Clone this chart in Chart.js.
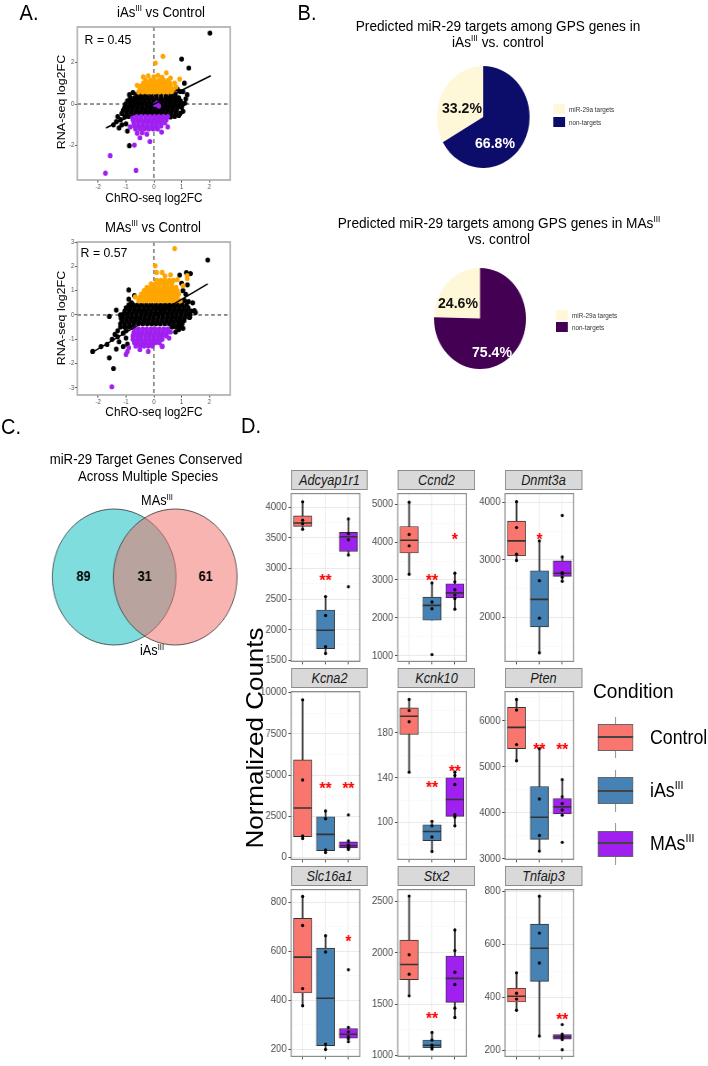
<!DOCTYPE html>
<html>
<head>
<meta charset="utf-8">
<title>miR-29 targets</title>
<script src="https://cdn.jsdelivr.net/npm/chart.js@4.4.1/dist/chart.umd.min.js"></script>
<style>
  html, body { margin: 0; padding: 0; background: #fff; }
  body { width: 708px; height: 1066px; overflow: hidden; position: relative; }
  #page { position: absolute; left: 0; top: 0; width: 778px; height: 1066px;
          transform: scaleX(0.91); transform-origin: 0 0;
          font-family: "Liberation Sans", Arial, sans-serif; color: #000; }
  #page canvas { position: absolute; }
  .t { position: absolute; white-space: nowrap; line-height: 1; }
  .t sup { font-size: 0.6em; vertical-align: 0; position: relative; top: -0.65em; }
  .strip { position: absolute; box-sizing: border-box; background: #D9D9D9; border: 1px solid #8C8C8C;
           font-style: italic; font-size: 14px; color: #1A1A1A; text-align: center; line-height: 18px; }
  .key { position: absolute; box-sizing: border-box; }
</style>
</head>
<body>
<div id="page"></div>
<script>
// ---------------- data ----------------

// Panel A: ChRO-seq vs RNA-seq log2FC, dots
const scatterXTicks = [-2, -1, 0, 1, 2];
const iasYTicks = [-2, 0, 2];
const masYTicks = [-3, -2, -1, 0, 1, 2, 3];

// dense bands are written as [y, [x, x, ...]]
const iasBlackRows = [
  [0.45, [-0.62, -0.45, -0.28, -0.1, 0.08, 0.26, 0.44, 0.62, 0.78]],
  [0.3, [-0.85, -0.7, -0.54, -0.38, -0.22, -0.06, 0.1, 0.26, 0.42, 0.58, 0.74, 0.9]],
  [0.15, [-0.95, -0.8, -0.64, -0.48, -0.32, -0.16, 0, 0.16, 0.32, 0.48, 0.64, 0.8, 0.96]],
  [0.0, [-1.02, -0.86, -0.7, -0.54, -0.38, -0.22, -0.06, 0.1, 0.26, 0.42, 0.58, 0.74, 0.9, 1.05]],
  [-0.15, [-1.05, -0.9, -0.74, -0.58, -0.42, -0.26, -0.1, 0.06, 0.22, 0.38, 0.54, 0.7, 0.86, 1.0]],
  [-0.3, [-1.1, -0.94, -0.78, -0.62, -0.46, -0.3, -0.14, 0.02, 0.18, 0.34, 0.5, 0.66, 0.82]],
  [-0.45, [-1.15, -0.98, -0.82, -0.66, -0.5, -0.34, -0.18, -0.02, 0.14, 0.3, 0.46, 0.62, 0.78]]
];
const iasBlackExtra = [
  [-1.3, -0.6], [-1.2, -0.75], [-1.05, -0.62], [-0.9, -0.6], [-1.35, -0.85], [-1.0, -0.95],
  [-1.15, -1.0], [-0.95, -1.3], [-0.88, -2.0], [1.15, 0.25], [1.12, 0.05], [1.2, 0.45],
  [1.05, 0.6], [0.95, 0.6], [0.85, 0.72], [1.26, 1.73], [1.0, 2.16], [2.02, 3.41],
  [0.95, -0.45], [1.05, -0.35], [0.9, -0.55], [0.75, -0.6], [-0.75, 0.55], [-0.88, 0.45],
  [0.7, 0.65], [1.1, 1.0], [-1.45, -1.0], [-1.25, -1.15], [0.6, -0.62]
];
const iasOrangeRows = [
  [0.58, [-0.55, -0.4, -0.25, -0.1, 0.05, 0.2, 0.35, 0.5, 0.65]],
  [0.72, [-0.5, -0.35, -0.2, -0.05, 0.1, 0.25, 0.4, 0.55, 0.7]],
  [0.86, [-0.45, -0.3, -0.15, 0, 0.15, 0.3, 0.45, 0.6]],
  [1.0, [-0.38, -0.22, -0.06, 0.1, 0.26, 0.42, 0.58]],
  [1.14, [-0.3, -0.12, 0.04, 0.2, 0.36, 0.52]]
];
const iasOrangeExtra = [
  [-0.38, 1.3], [0.0, 1.3], [0.15, 1.38], [0.3, 1.28], [0.93, 1.2], [0.75, 1.0], [0.8, 0.82],
  [-0.6, 0.9], [0.06, 1.97], [0.33, 2.29], [0.45, 1.5], [-0.2, 1.35], [0.6, 1.25]
];
const iasPurpleRows = [
  [-0.6, [-0.78, -0.62, -0.46, -0.3, -0.14, 0.02, 0.18, 0.34, 0.5]],
  [-0.75, [-0.75, -0.6, -0.45, -0.3, -0.15, 0, 0.15, 0.3, 0.45]],
  [-0.9, [-0.72, -0.56, -0.4, -0.24, -0.08, 0.08, 0.24, 0.4]],
  [-1.05, [-0.7, -0.54, -0.38, -0.22, -0.06, 0.1, 0.26]],
  [-1.2, [-0.66, -0.5, -0.34, -0.18, -0.02, 0.14]]
];
const iasPurpleExtra = [
  [-0.6, -1.4], [-0.42, -1.38], [-0.25, -1.45], [0.28, -1.35], [0.5, -1.1], [-0.14, -1.8],
  [-0.7, -1.97], [-0.5, -1.62], [-1.57, -2.48], [-1.74, -3.32], [-0.64, -3.19], [0.05, -0.02],
  [0.18, -0.1], [0.12, 0.05], [-0.85, -1.1]
];
const iasFit = [[-1.72, -1.15], [2.05, 1.36]];

const masBlackRows = [
  [0.42, [-0.9, -0.74, -0.58, -0.42, -0.26, -0.1, 0.06, 0.22, 0.38, 0.54, 0.7, 0.86, 1.02, 1.18]],
  [0.29, [-1.0, -0.84, -0.68, -0.52, -0.36, -0.2, -0.04, 0.12, 0.28, 0.44, 0.6, 0.76, 0.92, 1.08, 1.24]],
  [0.16, [-1.05, -0.89, -0.73, -0.57, -0.41, -0.25, -0.09, 0.07, 0.23, 0.39, 0.55, 0.71, 0.87, 1.03, 1.19, 1.35]],
  [0.03, [-1.1, -0.94, -0.78, -0.62, -0.46, -0.3, -0.14, 0.02, 0.18, 0.34, 0.5, 0.66, 0.82, 0.98, 1.14, 1.3]],
  [-0.1, [-1.12, -0.96, -0.8, -0.64, -0.48, -0.32, -0.16, 0, 0.16, 0.32, 0.48, 0.64, 0.8, 0.96, 1.12, 1.28]],
  [-0.23, [-1.15, -0.99, -0.83, -0.67, -0.51, -0.35, -0.19, -0.03, 0.13, 0.29, 0.45, 0.61, 0.77, 0.93, 1.09]],
  [-0.36, [-1.2, -1.04, -0.88, -0.72, -0.56, -0.4, -0.24, -0.08, 0.08, 0.24, 0.4, 0.56, 0.72, 0.88, 1.02]],
  [-0.49, [-1.2, -1.05, -0.9, -0.75, 0.65, 0.8, 0.95]]
];
const masBlackExtra = [
  [-1.68, -1.21], [-1.6, -1.76], [-1.45, -2.2], [-1.6, -0.06], [-1.18, -0.12], [-0.8, 0.5],
  [-0.9, 0.65], [-0.9, 1.03], [-0.7, 0.8], [1.4, 0.5], [1.46, 0.18], [1.3, -0.08], [0.93, 1.64],
  [1.17, 1.74], [1.32, 1.7], [1.21, 1.24], [1.94, 2.26], [1.1, 0.6], [1.25, 0.55], [1.5, 0.1],
  [-2.2, -1.5], [-1.9, -1.3], [-1.5, -1.0], [-1.3, -0.9], [-1.3, -0.65], [-1.1, -0.75],
  [-1.0, -0.65], [-1.25, -1.1], [-1.1, -1.3], [-1.35, -1.4], [-0.95, -1.2], [-1.0, -0.95],
  [-1.4, -0.8], [-1.2, 0.0], [-1.35, 0.2], [0.9, -0.6], [1.05, -0.55], [0.78, -0.7],
  [1.0, 1.3], [1.05, 1.0], [1.15, 0.85]
];
const masOrangeRows = [
  [0.58, [-0.55, -0.4, -0.25, -0.1, 0.05, 0.2, 0.35, 0.5, 0.65, 0.8, 0.95]],
  [0.72, [-0.5, -0.35, -0.2, -0.05, 0.1, 0.25, 0.4, 0.55, 0.7, 0.85]],
  [0.86, [-0.45, -0.3, -0.15, 0, 0.15, 0.3, 0.45, 0.6, 0.75, 0.9]],
  [1.0, [-0.35, -0.2, -0.05, 0.1, 0.25, 0.4, 0.55, 0.7, 0.85]],
  [1.14, [-0.25, -0.1, 0.05, 0.2, 0.35, 0.5, 0.65, 0.8]],
  [1.28, [-0.1, 0.05, 0.2, 0.35, 0.5, 0.65]],
  [1.42, [0.1, 0.25, 0.4, 0.55, 0.7]]
];
const masOrangeExtra = [
  [-0.67, 0.74], [0.1, 1.75], [0.05, 2.02], [0.75, 2.73], [1.2, 1.5], [0.6, 1.65], [0.4, 1.6],
  [0.85, 1.45], [1.05, 1.2], [0.3, 1.75], [1.2, 1.62]
];
const masPurpleRows = [
  [-0.58, [-0.7, -0.55, -0.4, -0.25, -0.1, 0.05, 0.2, 0.35, 0.5]],
  [-0.72, [-0.72, -0.57, -0.42, -0.27, -0.12, 0.03, 0.18, 0.33, 0.48]],
  [-0.86, [-0.75, -0.6, -0.45, -0.3, -0.15, 0, 0.15, 0.3, 0.45]],
  [-1.0, [-0.75, -0.6, -0.45, -0.3, -0.15, 0, 0.15, 0.3]],
  [-1.14, [-0.7, -0.55, -0.4, -0.25, -0.1, 0.05, 0.2]],
  [-1.28, [-0.65, -0.5, -0.35, -0.2, -0.05, 0.3]]
];
const masPurpleExtra = [
  [-0.95, -1.5], [-1.0, -1.62], [-0.2, -1.5], [-0.5, -1.42], [0.3, -1.3], [0.55, -0.95],
  [-1.51, -2.95], [-0.9, -1.35], [0.6, -0.7]
];
const masFit = [[-2.26, -1.57], [1.94, 1.28]];

// Panel B: pies
const pieLabels = ['miR-29a targets', 'non-targets'];
const iasPie = [33.2, 66.8];
const masPie = [24.6, 75.4];

// Panel C: venn
const vennSets = ['iAs', 'MAs'];
const vennCounts = [89, 31, 61];

// Panel D: normalized counts
const conditions = ['Control', 'iAsIII', 'MAsIII'];
const genes = ['Adcyap1r1', 'Ccnd2', 'Dnmt3a', 'Kcna2', 'Kcnk10', 'Pten', 'Slc16a1', 'Stx2', 'Tnfaip3'];
const geneTicks = [
  [1500, 2000, 2500, 3000, 3500, 4000], [1000, 2000, 3000, 4000, 5000], [2000, 3000, 4000],
  [0, 2500, 5000, 7500, 10000], [100, 140, 180], [3000, 4000, 5000, 6000],
  [200, 400, 600, 800], [1000, 1500, 2000, 2500], [200, 400, 600, 800]
];
const geneRange = [
  [1480, 4225], [850, 5280], [1240, 4150],
  [-120, 10060], [67, 217], [2990, 6630],
  [172, 851], [991, 2613], [178, 807]
];
// dots per condition: Control, iAsIII, MAsIII
const geneDots = [
  [[4090, 3790, 3730, 3640], [2540, 2230, 1720, 1610], [3810, 3570, 3470, 3220, 2700]],
  [[5050, 4200, 3900, 3150], [2920, 2420, 2240, 1030], [3180, 2950, 2740, 2600, 2510, 2230]],
  [[4010, 3560, 3100, 2990], [3330, 2640, 1990, 1390], [3770, 3050, 2780, 2760, 2700, 2630]],
  [[9560, 4700, 1300, 1150], [2820, 2350, 450, 300], [2580, 1000, 760, 650, 560, 480]],
  [[210, 200, 190, 145], [101, 97, 87, 74], [145, 142, 134, 107, 105, 97]],
  [[6460, 6230, 5480, 5130], [5390, 4300, 3510, 3170], [4720, 4350, 4200, 4060, 3950, 3360]],
  [[823, 705, 448, 378], [663, 597, 222, 200], [525, 290, 272, 252, 244, 232]],
  [[2550, 1980, 1790, 1580], [1223, 1150, 1100, 1075, 1062], [2220, 2020, 1810, 1690, 1460, 1370]],
  [[493, 416, 394, 352], [782, 643, 530, 255], [298, 262, 255, 248, 242, 203]]
];
// boxes: [lower whisker, q1, median, q3, upper whisker]
const geneBoxes = [
  [[3640, 3690, 3745, 3860, 4090], [1610, 1690, 1990, 2320, 2540], [3220, 3280, 3520, 3590, 3810]],
  [[3150, 3712, 4050, 4412, 5050], [1937, 1937, 2330, 2545, 2920], [2230, 2530, 2660, 2900, 3180]],
  [[2990, 3072, 3330, 3672, 4010], [1390, 1840, 2315, 2812, 3330], [2630, 2715, 2770, 2982, 3050]],
  [[1150, 1262, 3000, 5915, 9560], [300, 412, 1400, 2467, 2820], [480, 582, 705, 940, 1000]],
  [[145, 178.75, 195, 202.5, 210], [74, 83.75, 92, 98, 101], [97, 105.5, 120.5, 140, 145]],
  [[5130, 5392, 5855, 6287, 6460], [3170, 3425, 3905, 4572, 5390], [3950, 3977, 4130, 4312, 4720]],
  [[378, 430, 576, 734, 823], [200, 216, 409, 613, 663], [232, 246, 262, 285, 290]],
  [[1580, 1737, 1885, 2122, 2550], [1062, 1075, 1100, 1150, 1223], [1370, 1517, 1750, 1967, 2220]],
  [[352, 383, 405, 435, 493], [255, 461, 586, 677, 782], [242, 243, 251, 260, 262]]
];
// significance marks: [text, y] or null
const geneSig = [
  [null, ['**', 2870], null],
  [null, ['**', 3100], ['*', 4180]],
  [null, ['*', 3430], null],
  [null, ['**', 4460], ['**', 4460]],
  [null, ['**', 135], ['**', 150]],
  [null, ['**', 5480], ['**', 5480]],
  [null, null, ['*', 658]],
  [null, ['**', 1400], null],
  [null, null, ['**', 336]]
];

// ---------------- layout (picture pixels) ----------------
const SX = 0.91;              // the figure is a little narrower than tall
const FAM = '"Liberation Sans", Arial, sans-serif';
const condColors = ['#F8766D', '#4682B4', '#A020F0'];
const facetLeft = [291, 398, 505];
const facetWidth = 77;
const facetTop = [490, 688, 886];
const facetBottom = [663, 861, 1058];

Chart.defaults.font.family = FAM;
Chart.defaults.animation = false;
Chart.defaults.responsive = false;
Chart.defaults.events = [];
Chart.defaults.plugins.legend.display = false;
Chart.defaults.plugins.tooltip.enabled = false;

const page = document.getElementById('page');

function text(html, x, y, size, extra, mode) {
  const d = document.createElement('div');
  d.className = 't';
  d.innerHTML = html;
  d.style.left = (x / SX) + 'px';
  d.style.top = y + 'px';
  d.style.fontSize = size + 'px';
  if (extra) d.style.cssText += extra;
  d.style.transform = mode === 'left' ? 'translateY(-50%)'
    : mode === 'rot' ? 'translate(-50%,-50%) rotate(-90deg)' : 'translate(-50%,-50%)';
  page.appendChild(d);
  return d;
}

function block(cls, x, y, w, h, css) {
  const d = document.createElement('div');
  d.className = cls;
  d.style.left = (x / SX) + 'px';
  d.style.top = y + 'px';
  d.style.width = (w / SX) + 'px';
  d.style.height = h + 'px';
  if (css) d.style.cssText += css;
  page.appendChild(d);
  return d;
}

// canvas whose chart area lands on [l,t,r,b]; pads are canvas pixels
function makeCanvas(l, t, r, b, padL, padT, padR, padB) {
  const c = document.createElement('canvas');
  c.width = Math.round((r - l) / SX + padL + padR);
  c.height = Math.round(b - t + padT + padB);
  c.style.left = (l / SX - padL) + 'px';
  c.style.top = (t - padT) + 'px';
  page.appendChild(c);
  return c;
}

const toPts = (rows, extra) =>
  rows.flatMap(([y, xs]) => xs.map(x => ({ x, y }))).concat(extra.map(([x, y]) => ({ x, y })));

// ---------------- panel A ----------------
const zeroLines = {
  id: 'zeroLines',
  beforeDatasetsDraw(chart) {
    const { ctx, chartArea: a, scales } = chart;
    const x0 = scales.x.getPixelForValue(0), y0 = scales.y.getPixelForValue(0);
    ctx.save();
    ctx.strokeStyle = '#222';
    ctx.lineWidth = 1;
    ctx.setLineDash([4, 3]);
    ctx.beginPath();
    ctx.moveTo(x0, a.top); ctx.lineTo(x0, a.bottom);
    ctx.moveTo(a.left, y0); ctx.lineTo(a.right, y0);
    ctx.stroke();
    ctx.restore();
  },
  afterDraw(chart) {
    const { ctx, chartArea: a } = chart;
    ctx.save();
    ctx.strokeStyle = '#AAAAAA';
    ctx.lineWidth = 1.6;
    ctx.strokeRect(a.left, a.top, a.width, a.height);
    ctx.restore();
  }
};

function scatterPanel(area, yMin, yMax, yTicks, black, orange, purple, fit) {
  const cv = makeCanvas(area[0], area[1], area[2], area[3], 17, 6, 3, 12);
  const dot = (data, color, order) => ({
    type: 'scatter', data, backgroundColor: color, pointRadius: 2.6, pointBorderWidth: 0, order
  });
  new Chart(cv, {
    type: 'scatter',
    data: {
      datasets: [
        dot(black, '#000000', 3),
        dot(orange, '#FFA500', 2),
        dot(purple, '#A020F0', 1),
        { type: 'line', data: fit.map(([x, y]) => ({ x, y })), borderColor: '#000', borderWidth: 1.6,
          pointRadius: 0, order: 0 }
      ]
    },
    options: {
      layout: { padding: { top: 6, right: 3, bottom: 2, left: 0 } },
      scales: {
        x: {
          type: 'linear', min: -2.75, max: 2.75,
          afterBuildTicks: s => { s.ticks = scatterXTicks.map(v => ({ value: v })); },
          grid: { drawOnChartArea: false, tickLength: 2.5, tickColor: '#333' },
          border: { display: false },
          ticks: { font: { size: 6.5 }, color: '#4D4D4D', padding: 1, maxRotation: 0 },
          afterFit: s => { s.height = 10; }
        },
        y: {
          type: 'linear', min: yMin, max: yMax,
          afterBuildTicks: s => { s.ticks = yTicks.map(v => ({ value: v })); },
          grid: { drawOnChartArea: false, tickLength: 2.5, tickColor: '#333' },
          border: { display: false },
          ticks: { font: { size: 6.5 }, color: '#4D4D4D', padding: 1 },
          afterFit: s => { s.width = 17; }
        }
      }
    },
    plugins: [zeroLines]
  });
}

text('A.', 29, 13, 22);
text('iAs<sup>III</sup> vs Control', 161, 12, 14.5);
scatterPanel([77, 27, 231, 180], -3.65, 3.7, iasYTicks,
  toPts(iasBlackRows, iasBlackExtra), toPts(iasOrangeRows, iasOrangeExtra),
  toPts(iasPurpleRows, iasPurpleExtra), iasFit);
text('R = 0.45', 108, 40, 13.5);
text('RNA-seq log2FC', 62, 102, 12.5, '', 'rot');
text('ChRO-seq log2FC', 154, 197, 13);

text('MAs<sup>III</sup> vs Control', 153, 227, 14.5);
scatterPanel([77, 242, 231, 395], -3.29, 3.0, masYTicks,
  toPts(masBlackRows, masBlackExtra), toPts(masOrangeRows, masOrangeExtra),
  toPts(masPurpleRows, masPurpleExtra), masFit);
text('R = 0.57', 104, 253, 13.5);
text('RNA-seq log2FC', 62, 318, 12.5, '', 'rot');
text('ChRO-seq log2FC', 154, 411, 13);

// ---------------- panel B ----------------
function piePanel(cx, cy, r, values, colors) {
  const c = document.createElement('canvas');
  const d = Math.round(2 * r);
  c.width = d; c.height = d;
  c.style.left = (cx / SX - r) + 'px';
  c.style.top = (cy - r) + 'px';
  page.appendChild(c);
  new Chart(c, {
    type: 'pie',
    data: { labels: pieLabels, datasets: [{ data: values, backgroundColor: colors, borderWidth: 0 }] },
    options: { rotation: -values[0] * 3.6, layout: { padding: 0 } }
  });
}
function pieLegend(x, y1, y2, colors) {
  [y1, y2].forEach((y, i) => {
    block('key', x, y - 5, 12, 10, 'background:' + colors[i] + ';');
    text(pieLabels[i], x + 16, y, 7, 'color:#333;', 'left');
  });
}

text('B.', 307, 13, 22);
const pie1Colors = ['#FFF8D8', '#0C0C6B'];
text('Predicted miR-29 targets among GPS genes in', 498, 25, 15);
text('iAs<sup>III</sup> vs. control', 498, 41, 15);
piePanel(483, 117, 51, iasPie, pie1Colors);
text(iasPie[0].toFixed(1) + '%', 462, 108, 15.5, 'font-weight:bold;color:#111;');
text(iasPie[1].toFixed(1) + '%', 495, 143, 15.5, 'font-weight:bold;color:#fff;');
pieLegend(553, 109, 122, pie1Colors);

const pie2Colors = ['#FFF8D8', '#440154'];
text('Predicted miR-29 targets among GPS genes in MAs<sup>III</sup>', 499, 222, 15);
text('vs. control', 499, 238, 15);
piePanel(480, 318.5, 50.5, masPie, pie2Colors);
text(masPie[0].toFixed(1) + '%', 458, 303, 15.5, 'font-weight:bold;color:#111;');
text(masPie[1].toFixed(1) + '%', 492, 352, 15.5, 'font-weight:bold;color:#fff;');
pieLegend(556, 315, 327, pie2Colors);

// ---------------- panel C ----------------
text('C.', 11, 427, 22);
text('miR-29 Target Genes Conserved', 146, 459, 14.5);
text('Across Multiple Species', 148, 476, 14.5);

const vennLabels = {
  id: 'vennLabels',
  afterDatasetsDraw(chart) {
    const { ctx, scales } = chart;
    ctx.save();
    ctx.font = 'bold 14px ' + FAM;
    ctx.fillStyle = '#000';
    ctx.textAlign = 'center';
    ctx.textBaseline = 'middle';
    vennCounts.forEach((n, i) => {
      ctx.fillText(String(n), scales.x.getPixelForValue(i - 1), scales.y.getPixelForValue(0));
    });
    ctx.restore();
  }
};
(function venn() {
  // the bubble radius is reserved as padding, so pad the canvas by more than it
  const pad = 72;
  const cv = makeCanvas(30, 500, 260, 655, pad, pad, pad, pad);
  const unit = 61; // picture px per data unit, horizontally
  new Chart(cv, {
    type: 'bubble',
    data: {
      datasets: [{
        data: [{ x: -0.5, y: 0, r: 68 }, { x: 0.5, y: 0, r: 68 }],
        backgroundColor: ['rgba(0,187,189,0.5)', 'rgba(241,105,97,0.5)'],
        borderColor: '#333', borderWidth: 0.8, clip: false
      }]
    },
    options: {
      layout: { padding: pad },
      scales: {
        x: { display: false, min: -(144.5 - 30) / unit, max: (260 - 144.5) / unit },
        y: { display: false, min: -(655 - 577) / (unit / SX), max: (577 - 500) / (unit / SX) }
      }
    },
    plugins: [vennLabels]
  });
})();
text(vennSets[1] + '<sup>III</sup>', 157, 500, 14);
text(vennSets[0] + '<sup>III</sup>', 152, 650, 14);

// ---------------- panel D ----------------
text('D.', 251, 426, 22);
text('Normalized Counts', 255, 738, 26, '', 'rot');

const facetPlugin = {
  id: 'facet',
  afterDatasetsDraw(chart, args, opts) {
    const { ctx, chartArea: a, scales } = chart;
    ctx.save();
    ctx.font = 'bold 17px ' + FAM;
    ctx.fillStyle = '#FF0000';
    ctx.textAlign = 'center';
    ctx.textBaseline = 'alphabetic';
    (opts.sig || []).forEach((s, i) => {
      if (!s) return;
      ctx.fillText(s[0], scales.x.getPixelForValue(i), scales.y.getPixelForValue(s[1]) + 10);
    });
    ctx.strokeStyle = '#8C8C8C';
    ctx.lineWidth = 1.2;
    ctx.strokeRect(a.left, a.top, a.width, a.height);
    ctx.restore();
  }
};

function boxPanel(g) {
  const col = g % 3, row = Math.floor(g / 3);
  const l = facetLeft[col], r = l + facetWidth, t = facetTop[row], b = facetBottom[row];
  const strip = block('strip', l, t - 20, facetWidth, 20);
  strip.textContent = genes[g];

  const cv = makeCanvas(l, t, r, b, 44, 8, 2, 10);
  const major = geneTicks[g];
  const half = (major[1] - major[0]) / 2;
  const [lo, hi] = geneRange[g];
  const tickVals = [];
  for (let v = major[0] - half; v <= hi; v += half) if (v >= lo) tickVals.push(v);
  const isMajor = v => major.includes(v);
  const bx = geneBoxes[g];
  const dots = geneDots[g].flatMap((vals, i) => vals.map(y => ({ x: conditions[i], y })));

  new Chart(cv, {
    type: 'bar',
    data: {
      labels: conditions,
      datasets: [
        { type: 'bar', data: bx.map(q => [q[0], q[4]]), backgroundColor: '#333', barThickness: 1.2,
          grouped: false, order: 4 },
        { type: 'bar', data: bx.map(q => [q[1], q[3]]), backgroundColor: condColors, borderColor: '#333',
          borderWidth: 0.9, borderSkipped: false, barThickness: 20, grouped: false, order: 3 },
        { type: 'line', data: bx.map((q, i) => ({ x: conditions[i], y: q[2] })), showLine: false,
          pointStyle: 'line', pointRadius: 10, pointBorderWidth: 1.6, pointBorderColor: '#333', order: 2 },
        { type: 'line', data: dots, showLine: false, pointRadius: 1.7, pointBackgroundColor: '#000',
          pointBorderWidth: 0, order: 1 }
      ]
    },
    options: {
      layout: { padding: { top: 8, right: 2, bottom: 6, left: 0 } },
      plugins: { facet: { sig: geneSig[g] } },
      scales: {
        x: {
          type: 'category', offset: true,
          grid: { offset: false, color: '#EBEBEB', lineWidth: 0.9, tickColor: '#333', tickLength: 3 },
          border: { display: false },
          ticks: { callback: () => '', padding: 0 },
          afterFit: s => { s.height = 4; }
        },
        y: {
          type: 'linear', min: lo, max: hi,
          afterBuildTicks: s => { s.ticks = tickVals.map(v => ({ value: v })); },
          grid: {
            color: c => isMajor(c.tick.value) ? '#E8E8E8' : '#F4F4F4',
            lineWidth: c => isMajor(c.tick.value) ? 0.9 : 0.5,
            tickColor: c => isMajor(c.tick.value) ? '#333' : 'rgba(0,0,0,0)',
            tickLength: 3
          },
          border: { display: false },
          ticks: { callback: v => isMajor(v) ? String(v) : '', font: { size: 10.5 }, color: '#4D4D4D', padding: 2 },
          afterFit: s => { s.width = 44; }
        }
      }
    },
    plugins: [facetPlugin]
  });
}
genes.forEach((_, g) => boxPanel(g));

// legend
text('Condition', 593, 690, 21, '', 'left');
const legendKeys = [[717, 724, 737, 751, 758], [770, 777, 791, 804, 812], [823, 831, 843, 857, 865]];
const legendNames = ['Control', 'iAs<sup>III</sup>', 'MAs<sup>III</sup>'];
legendKeys.forEach((k, i) => {
  block('key', 615, k[0], 1, k[4] - k[0], 'background:#888;');
  block('key', 598, k[1], 35, k[3] - k[1], 'background:' + condColors[i] + ';border:1px solid #666;');
  block('key', 598, k[2] - 1, 35, 2, 'background:#444;');
  text(legendNames[i], 650, (k[1] + k[3]) / 2, 19.5, '', 'left');
});
</script>
</body>
</html>
